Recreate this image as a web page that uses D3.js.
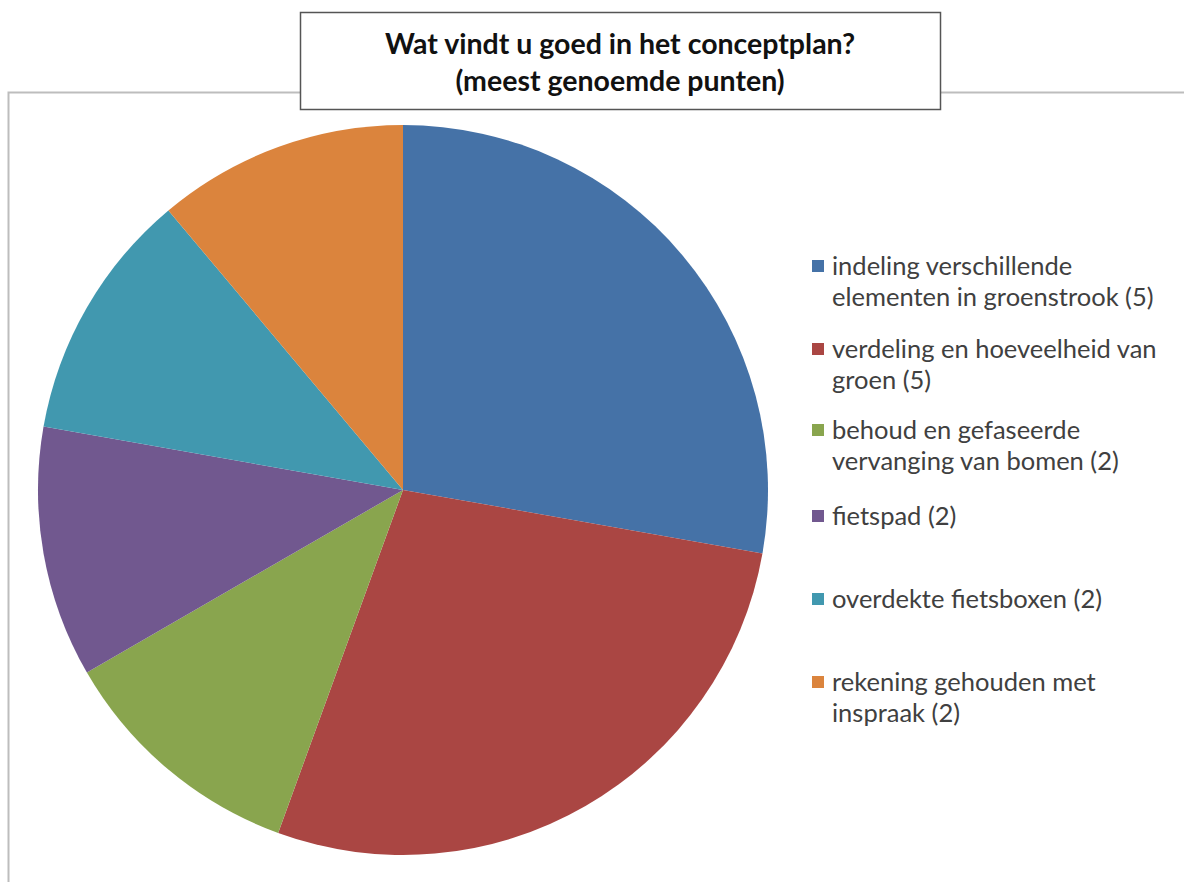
<!DOCTYPE html>
<html>
<head>
<meta charset="utf-8">
<script src="https://cdn.jsdelivr.net/npm/d3@7"></script>
<style>
  body { margin: 0; background: #fff; }
  svg { display: block; }
</style>
</head>
<body>
<div id="chart"></div>
<script>
// data
const labels = [
    ["indeling verschillende", "elementen in groenstrook (5)"],
    ["verdeling en hoeveelheid van", "groen (5)"],
    ["behoud en gefaseerde", "vervanging van bomen (2)"],
    ["fietspad (2)"],
    ["overdekte fietsboxen (2)"],
    ["rekening gehouden met", "inspraak (2)"]
];
const values = [5, 5, 2, 2, 2, 2];
const colors = ["#4572A7", "#AA4643", "#89A54E", "#71588F", "#4198AF", "#DB843D"];
const titleLines = ["Wat vindt u goed in het conceptplan?", "(meest genoemde punten)"];

const width = 1184, height = 882;

const svg = d3.select("#chart")
    .append("svg")
    .attr("width", width)
    .attr("height", height);

// outer chart frame (only left + top visible)
svg.append("path")
    .attr("d", "M8.5," + height + " V92.5 H" + width)
    .attr("fill", "none")
    .attr("stroke", "#bdbdbd")
    .attr("stroke-width", 2);

// pie
const cx = 403, cy = 490, radius = 365;
const pie = d3.pie().sort(null).value(d => d);
const arc = d3.arc().innerRadius(0).outerRadius(radius);

const g = svg.append("g")
    .attr("transform", "translate(" + cx + "," + cy + ")");

g.selectAll("path")
    .data(pie(values))
    .enter()
    .append("path")
    .attr("d", arc)
    .attr("fill", (d, i) => colors[i]);

// title box
svg.append("rect")
    .attr("x", 300.5)
    .attr("y", 12.5)
    .attr("width", 640)
    .attr("height", 97)
    .attr("fill", "#fff")
    .attr("stroke", "#555")
    .attr("stroke-width", 1.5);

svg.append("g")
    .selectAll("text")
    .data(titleLines)
    .enter()
    .append("text")
    .attr("x", 620)
    .attr("y", (d, i) => 54 + i * 37)
    .attr("text-anchor", "middle")
    .style("font-family", "Lato, 'Noto Sans', sans-serif")
    .style("font-weight", "bold")
    .style("font-size", "28.5px")
    .attr("fill", "#111")
    .text(d => d);

// legend
const legendY = [266, 349, 430, 516, 599, 682];
const legend = svg.append("g");

const item = legend.selectAll("g")
    .data(labels)
    .enter()
    .append("g")
    .attr("transform", (d, i) => "translate(812," + legendY[i] + ")");

item.append("rect")
    .attr("x", 0)
    .attr("y", -6)
    .attr("width", 12)
    .attr("height", 12)
    .attr("fill", (d, i) => colors[i]);

item.selectAll("text")
    .data(d => d)
    .enter()
    .append("text")
    .attr("x", 20)
    .attr("y", (d, j) => 9 + j * 31)
    .style("font-family", "Lato, 'Noto Sans', sans-serif")
    .style("font-size", "25.5px")
    .attr("fill", "#404040")
    .text(d => d);
</script>
</body>
</html>
